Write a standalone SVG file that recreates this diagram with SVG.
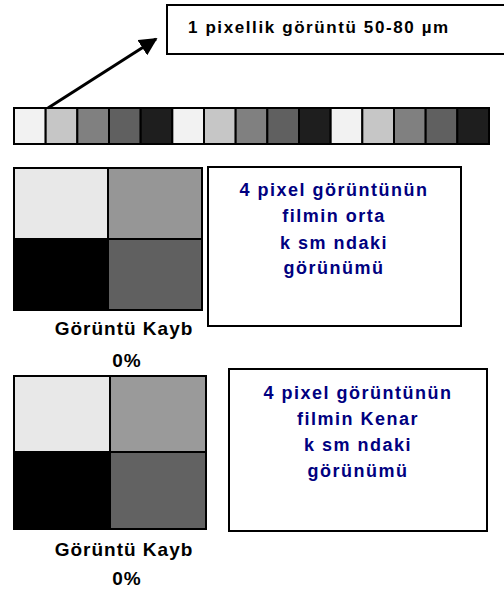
<svg xmlns="http://www.w3.org/2000/svg" width="504" height="589" viewBox="0 0 504 589">
<defs>
<style>
.box{fill:#fff;stroke:#000;stroke-width:2}
.cell{stroke:#000;stroke-width:2}
.t{font-family:"Liberation Sans",Arial,sans-serif;font-weight:bold}
.blk{fill:#000;font-size:19px;letter-spacing:1px}
.top{fill:#000;font-size:17px;letter-spacing:1.6px}
.nav{fill:#000080;text-anchor:middle;font-size:18px;letter-spacing:1.5px}
.mid{text-anchor:middle}
</style>
<marker id="ah" viewBox="0 0 10 10" refX="9" refY="5" markerWidth="6" markerHeight="6" markerUnits="strokeWidth" orient="auto">
<path d="M0,0 L10,5 L0,10 z" fill="#000"/>
</marker>
</defs>
<rect width="504" height="589" fill="#fff"/>
<g id="label-box">
<rect class="box" x="167" y="5" width="345" height="49"/>
<text class="t top" x="188" y="33">1 pixellik görüntü 50-80 µm</text>
</g>
<g id="strip">
<rect class="cell" x="14" y="108" width="31.67" height="36" fill="#f2f2f2"/>
<rect class="cell" x="45.67" y="108" width="31.67" height="36" fill="#c6c6c6"/>
<rect class="cell" x="77.33" y="108" width="31.67" height="36" fill="#808080"/>
<rect class="cell" x="109" y="108" width="31.67" height="36" fill="#606060"/>
<rect class="cell" x="140.67" y="108" width="31.67" height="36" fill="#1e1e1e"/>
<rect class="cell" x="172.33" y="108" width="31.67" height="36" fill="#f2f2f2"/>
<rect class="cell" x="204" y="108" width="31.67" height="36" fill="#c6c6c6"/>
<rect class="cell" x="235.67" y="108" width="31.67" height="36" fill="#808080"/>
<rect class="cell" x="267.33" y="108" width="31.67" height="36" fill="#606060"/>
<rect class="cell" x="299" y="108" width="31.67" height="36" fill="#1e1e1e"/>
<rect class="cell" x="330.67" y="108" width="31.67" height="36" fill="#f2f2f2"/>
<rect class="cell" x="362.33" y="108" width="31.67" height="36" fill="#c6c6c6"/>
<rect class="cell" x="394" y="108" width="31.67" height="36" fill="#808080"/>
<rect class="cell" x="425.67" y="108" width="31.67" height="36" fill="#606060"/>
<rect class="cell" x="457.33" y="108" width="31.67" height="36" fill="#1e1e1e"/>
</g>
<g id="connectors">
<line x1="48" y1="108" x2="156" y2="39" stroke="#000" stroke-width="3" marker-end="url(#ah)"/>
</g>
<g id="quad1">
<rect class="cell" x="14" y="168" width="94" height="71" fill="#e8e8e8"/>
<rect class="cell" x="108" y="168" width="94" height="71" fill="#969696"/>
<rect class="cell" x="14" y="239" width="94" height="71" fill="#000"/>
<rect class="cell" x="108" y="239" width="94" height="71" fill="#606060"/>
</g>
<g id="desc1">
<rect class="box" x="208" y="167" width="253" height="159"/>
<text class="t nav" x="334" y="196">4 pixel görüntünün</text>
<text class="t nav" x="334" y="222">filmin orta</text>
<text class="t nav" x="334" y="249">k sm ndaki</text>
<text class="t nav" x="334" y="274">görünümü</text>
</g>
<g id="loss1">
<text class="t blk mid" x="124" y="335">Görüntü Kayb</text>
<text class="t blk mid" x="127" y="367">0%</text>
</g>
<g id="quad2">
<rect class="cell" x="14" y="376" width="96" height="76" fill="#e8e8e8"/>
<rect class="cell" x="110" y="376" width="96" height="76" fill="#9a9a9a"/>
<rect class="cell" x="14" y="452" width="96" height="77" fill="#000"/>
<rect class="cell" x="110" y="452" width="96" height="77" fill="#626262"/>
</g>
<g id="desc2">
<rect class="box" x="229" y="369" width="258" height="162"/>
<text class="t nav" x="358" y="399">4 pixel görüntünün</text>
<text class="t nav" x="358" y="425">filmin Kenar</text>
<text class="t nav" x="358" y="451">k sm ndaki</text>
<text class="t nav" x="358" y="477">görünümü</text>
</g>
<g id="loss2">
<text class="t blk mid" x="124" y="556">Görüntü Kayb</text>
<text class="t blk mid" x="127" y="585">0%</text>
</g>
</svg>
